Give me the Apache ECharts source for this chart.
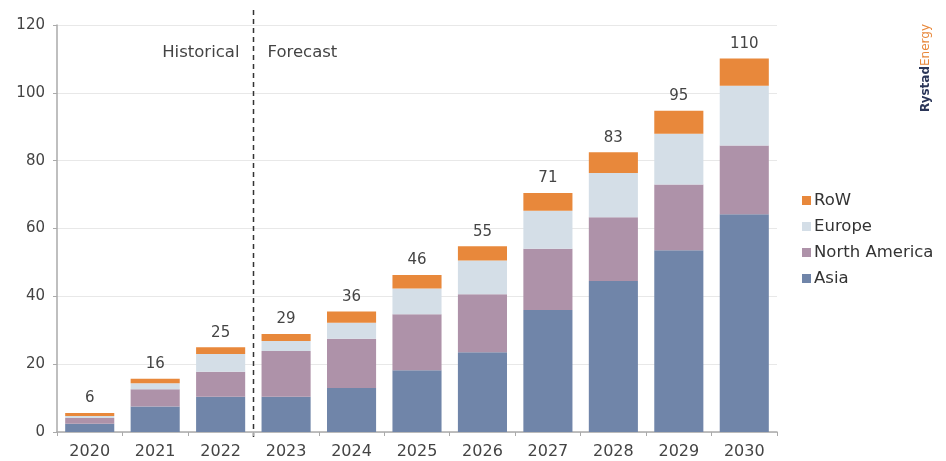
<!DOCTYPE html>
<html>
<head>
<meta charset="utf-8">
<script src="https://cdn.jsdelivr.net/npm/echarts@6/dist/echarts.min.js"></script>
<style>
html,body{margin:0;padding:0;background:#fff;}
#chart{width:946px;height:461px;}
</style>
</head>
<body>
<div id="chart"></div>
<script>
var categories = ['2020','2021','2022','2023','2024','2025','2026','2027','2028','2029','2030'];
var asia = [2.4, 7.5, 10.4, 10.4, 13.0, 18.2, 23.5, 36.0, 44.5, 53.6, 64.2];
var northAmerica = [1.7, 5.1, 7.4, 13.5, 14.5, 16.5, 17.1, 18.0, 18.8, 19.4, 20.3];
var europe = [0.6, 1.8, 5.2, 2.9, 4.7, 7.6, 10.0, 11.2, 13.1, 14.9, 17.6];
var row = [0.9, 1.3, 2.0, 2.1, 3.3, 4.0, 4.2, 5.3, 6.1, 6.8, 8.0];
var totals = [6, 16, 25, 29, 36, 46, 55, 71, 83, 95, 110];
var yTicks = [0, 20, 40, 60, 80, 100, 120];
var periodLabels = ['Historical', 'Forecast'];

var FONT = 'DejaVu Sans';
var colors = {asia:'#7085a9', na:'#ae92a9', eu:'#d4dee7', row:'#e8883b'};

var chart = echarts.init(document.getElementById('chart'), null, {renderer:'canvas'});

function seriesOf(name, data, color, withLabel) {
  var s = {
    name: name, type: 'bar', stack: 'total', data: data,
    barCategoryGap: '25%',
    itemStyle: {color: color},
    emphasis: {disabled: true}
  };
  if (withLabel) {
    s.label = {
      show: true, position: 'top', distance: 7,
      fontFamily: FONT, fontSize: 15, color: '#444',
      formatter: function (p) { return String(totals[p.dataIndex]); }
    };
  }
  return s;
}

var option = {
  animation: false,
  backgroundColor: '#fff',
  grid: {left: 57, right: 169, top: 25, bottom: 29, containLabel: false},
  legend: {
    orient: 'vertical', left: 797, top: 187, itemGap: 9,
    itemWidth: 9, itemHeight: 9, icon: 'rect',
    textStyle: {fontFamily: FONT, fontSize: 16.5, color: '#333', padding: [0,0,0,-2]},
    data: ['RoW', 'Europe', 'North America', 'Asia']
  },
  xAxis: {
    type: 'category', data: categories,
    axisLine: {lineStyle: {color: '#aaa', width: 1.5}},
    axisTick: {show: true, length: 4, lineStyle: {color: '#aaa'}},
    axisLabel: {fontFamily: FONT, fontSize: 16, color: '#444', margin: 12}
  },
  yAxis: {
    type: 'value', min: yTicks[0], max: yTicks[yTicks.length-1], interval: 20,
    axisLine: {show: true, lineStyle: {color: '#aaa', width: 1.5}},
    axisTick: {show: true, length: 4, lineStyle: {color: '#aaa'}},
    axisLabel: {fontFamily: FONT, fontSize: 15, color: '#444', margin: 12},
    splitLine: {lineStyle: {color: '#e8e8e8'}}
  },
  series: [
    seriesOf('Asia', asia, colors.asia, false),
    seriesOf('North America', northAmerica, colors.na, false),
    seriesOf('Europe', europe, colors.eu, false),
    seriesOf('RoW', row, colors.row, true)
  ]
};
chart.setOption(option);

var p22 = chart.convertToPixel({xAxisIndex: 0}, '2022');
var p23 = chart.convertToPixel({xAxisIndex: 0}, '2023');
var xDiv = Math.round((p22 + p23) / 2) + 0.5;
var yTop = chart.convertToPixel({yAxisIndex: 0}, 120);
var yZero = chart.convertToPixel({yAxisIndex: 0}, 0);

chart.setOption({
  graphic: [
    {type: 'line', shape: {x1: xDiv, y1: yTop - 15, x2: xDiv, y2: yZero + 5},
     style: {stroke: '#333', lineWidth: 1.5, lineDash: [5, 4]}, silent: true},
    {type: 'text', x: xDiv - 14, y: yTop + 28,
     style: {text: periodLabels[0], font: '16.5px "DejaVu Sans"', fill: '#444', align: 'right', verticalAlign: 'middle'}},
    {type: 'text', x: xDiv + 14, y: yTop + 28,
     style: {text: periodLabels[1], font: '16.5px "DejaVu Sans"', fill: '#444', align: 'left', verticalAlign: 'middle'}},
    {type: 'text', x: 926, y: 68, rotation: Math.PI / 2,
     style: {
       text: '{a|Rystad}{b|Energy}',
       align: 'center', verticalAlign: 'middle',
       rich: {
         a: {fontFamily: FONT, fontSize: 12, fontWeight: 'bold', fill: '#2b3658', color: '#2b3658'},
         b: {fontFamily: FONT, fontSize: 12, fill: '#e8883b', color: '#e8883b'}
       }
     }}
  ]
});
</script>
</body>
</html>
